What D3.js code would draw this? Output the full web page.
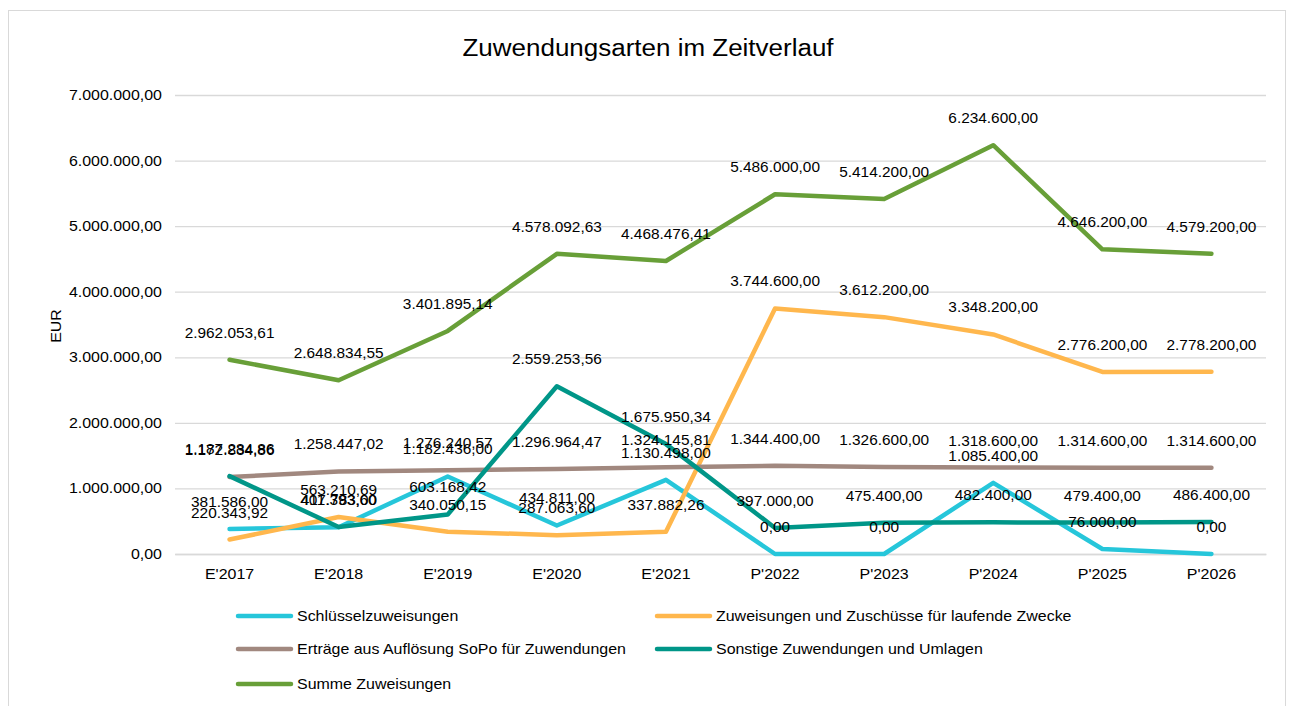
<!DOCTYPE html>
<html><head><meta charset="utf-8">
<script src="https://cdn.jsdelivr.net/npm/d3@7"></script>
<style>body{margin:0;background:#fff;font-family:"Liberation Sans",Arial,sans-serif;}</style>
</head><body><svg id="c" width="1292" height="706"></svg>
<script>
const categories = ["E'2017","E'2018","E'2019","E'2020","E'2021","P'2022","P'2023","P'2024","P'2025","P'2026"];
const schluessel = [381586.00, 407783.00, 1182436.00, 434811.00, 1130498.00, 0, 0, 1085400.00, 76000.00, 0];
const zuweisungen = [220343.92, 563210.69, 340050.15, 287063.60, 337882.26, 3744600.00, 3612200.00, 3348200.00, 2776200.00, 2778200.00];
const ertraege = [1172834.86, 1258447.02, 1276240.57, 1296964.47, 1324145.81, 1344400.00, 1326600.00, 1318600.00, 1314600.00, 1314600.00];
const sonstige = [1187284.86, 411393.60, 603168.42, 2559253.56, 1675950.34, 397000.00, 475400.00, 482400.00, 479400.00, 486400.00];
const summe = [2962053.61, 2648834.55, 3401895.14, 4578092.63, 4468476.41, 5486000.00, 5414200.00, 6234600.00, 4646200.00, 4579200.00];
const yTicks = [0,1000000,2000000,3000000,4000000,5000000,6000000,7000000];
const seriesNames = ["Schlüsselzuweisungen","Zuweisungen und Zuschüsse für laufende Zwecke","Erträge aus Auflösung SoPo für Zuwendungen","Sonstige Zuwendungen und Umlagen","Summe Zuweisungen"];
const seriesColors = ["#26C6DA","#FFB74D","#A1887F","#009688","#689F38"];
const seriesData = [schluessel, zuweisungen, ertraege, sonstige, summe];

const svg = d3.select("#c");
const font = "'Liberation Sans', Arial, sans-serif";
svg.append("rect").attr("x",8.5).attr("y",10.5).attr("width",1277).attr("height",700).attr("fill","#fff").attr("stroke","#d9d9d9");

const x = d3.scaleBand().domain(categories).range([175,1266]);
const y = d3.scaleLinear().domain([0,7000000]).range([554,95]);
const fmt = d3.formatLocale({decimal:",",thousands:".",grouping:[3],currency:["","€"]}).format(",.2f");

// helper: horizontally stretched text at (px,py)
function stext(parent, px, py, s, sx, anchor, size){
  return parent.append("text").attr("transform",`translate(${px},${py}) scale(${sx},1)`)
    .attr("text-anchor",anchor).attr("font-family",font).attr("font-size",size).attr("fill","#000").text(s);
}

stext(svg, 648, 56, "Zuwendungsarten im Zeitverlauf", 1.13, "middle", 23);

// grid + y axis
const yAxis = svg.append("g").attr("transform","translate(175,0)")
  .call(d3.axisLeft(y).tickValues(yTicks).tickSize(-1091).tickFormat(fmt).tickPadding(13));
yAxis.select(".domain").remove();
yAxis.selectAll("line").attr("stroke","#d9d9d9").attr("stroke-width",1.3);
yAxis.selectAll("text").attr("font-family",font).attr("font-size",14).attr("fill","#000")
  .attr("transform","translate(-13,0) scale(1.14,1) translate(13,0)");

const xAxis = svg.append("g").attr("transform","translate(0,554)")
  .call(d3.axisBottom(x).tickSize(0).tickPadding(15));
xAxis.select(".domain").attr("stroke","#d9d9d9").attr("stroke-width",1.3);
xAxis.selectAll("text").attr("font-family",font).attr("font-size",14).attr("fill","#000")
  .attr("transform","scale(1.14,1)");

svg.append("text").attr("transform","translate(61,326) rotate(-90) scale(1.14,1)").attr("text-anchor","middle")
  .attr("font-family",font).attr("font-size",14).text("EUR");

const line = d3.line().x((d,i)=>x(categories[i])+x.bandwidth()/2).y(d=>y(d));
seriesData.forEach((s,k)=>{
  svg.append("path").datum(s).attr("d",line).attr("fill","none").attr("stroke",seriesColors[k])
    .attr("stroke-width",4.5).attr("stroke-linejoin","round").attr("stroke-linecap","round");
});
seriesData.forEach((s,k)=>{
  const g = svg.append("g");
  s.forEach((d,i)=>{
    stext(g, x(categories[i])+x.bandwidth()/2, y(d)-22, fmt(d), 1.1, "middle", 14);
  });
});

// legend
const legendPos = [[238,616],[657,616],[238,649],[657,649],[238,684]];
seriesNames.forEach((n,k)=>{
  const [lx,ly] = legendPos[k];
  svg.append("line").attr("x1",lx).attr("x2",lx+53).attr("y1",ly).attr("y2",ly)
    .attr("stroke",seriesColors[k]).attr("stroke-width",4.5).attr("stroke-linecap","round");
  stext(svg, lx+59, ly+5, n, 1.14, "start", 14);
});
</script></body></html>
